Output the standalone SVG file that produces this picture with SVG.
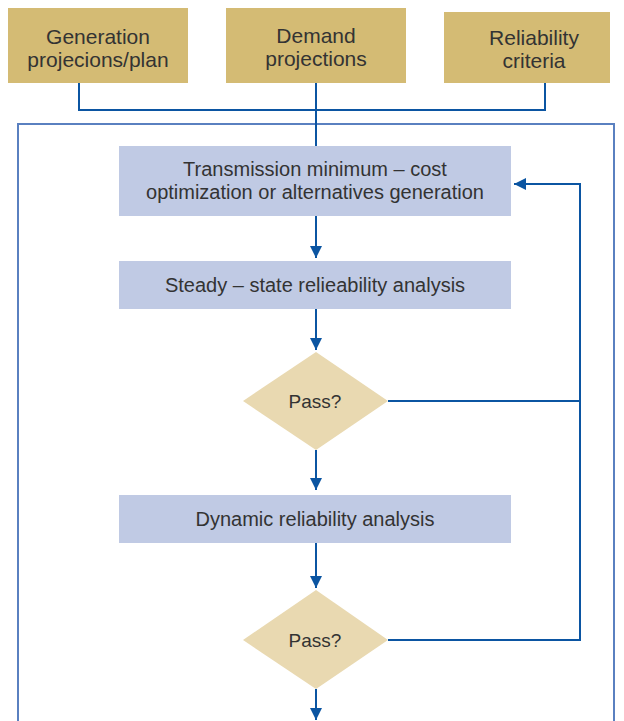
<svg xmlns="http://www.w3.org/2000/svg" width="624" height="721" viewBox="0 0 624 721">
<style>
.in{fill:#d4bb74}
.pr{fill:#c0cae4}
.dc{fill:#e9d9b1}
text{font-family:"Liberation Sans","Open Sans",sans-serif;font-size:20px;fill:#333;text-anchor:middle}
.top text{font-size:21px}
.dq text{font-size:19px}
.c{fill:none;stroke:#0b55a2;stroke-width:2}
.fr{fill:none;stroke:#5a80c0;stroke-width:2}
</style>
<defs>
<marker id="ah" viewBox="0 0 10 10" refX="10" refY="5" markerWidth="12" markerHeight="12" markerUnits="userSpaceOnUse" orient="auto">
<path d="M0,0 L10,5 L0,10 z" fill="#0b55a2"/>
</marker>
</defs>
<rect class="fr" x="18" y="124" width="596" height="620"/>
<g id="connectors">
<path class="c" d="M79,83 V110 H545 V83"/>
<path class="c" d="M316,83 V146"/>
<path class="c" d="M316,216 V258" marker-end="url(#ah)"/>
<path class="c" d="M316,309 V350" marker-end="url(#ah)"/>
<path class="c" d="M316,450 V490" marker-end="url(#ah)"/>
<path class="c" d="M316,543 V588" marker-end="url(#ah)"/>
<path class="c" d="M316,689 V720" marker-end="url(#ah)"/>
<path class="c" d="M388,401 H580"/>
<path class="c" d="M388,640 H580 V184 H514" marker-end="url(#ah)"/>
</g>
<g id="gen" class="top"><rect class="in" x="8" y="8" width="180" height="75"/><text x="98" y="44">Generation</text><text x="98" y="67">projecions/plan</text></g>
<g id="demand" class="top"><rect class="in" x="226" y="8" width="180" height="75"/><text x="316" y="43">Demand</text><text x="316" y="66">projections</text></g>
<g id="rel" class="top"><rect class="in" x="444" y="12" width="166" height="71"/><text x="534" y="45">Reliability</text><text x="534" y="68">criteria</text></g>
<g id="trans"><rect class="pr" x="119" y="146" width="392" height="70"/><text x="315" y="176">Transmission minimum – cost</text><text x="315" y="199">optimization or alternatives generation</text></g>
<g id="steady"><rect class="pr" x="119" y="261" width="392" height="48"/><text x="315" y="292">Steady – state relieability analysis</text></g>
<g id="pass1" class="dq"><polygon class="dc" points="316,352 388,401 316,450 243,401"/><text x="315" y="408">Pass?</text></g>
<g id="dyn"><rect class="pr" x="119" y="495" width="392" height="48"/><text x="315" y="526">Dynamic reliability analysis</text></g>
<g id="pass2" class="dq"><polygon class="dc" points="316,590 388,640 316,689 243,640"/><text x="315" y="647">Pass?</text></g>
</svg>
